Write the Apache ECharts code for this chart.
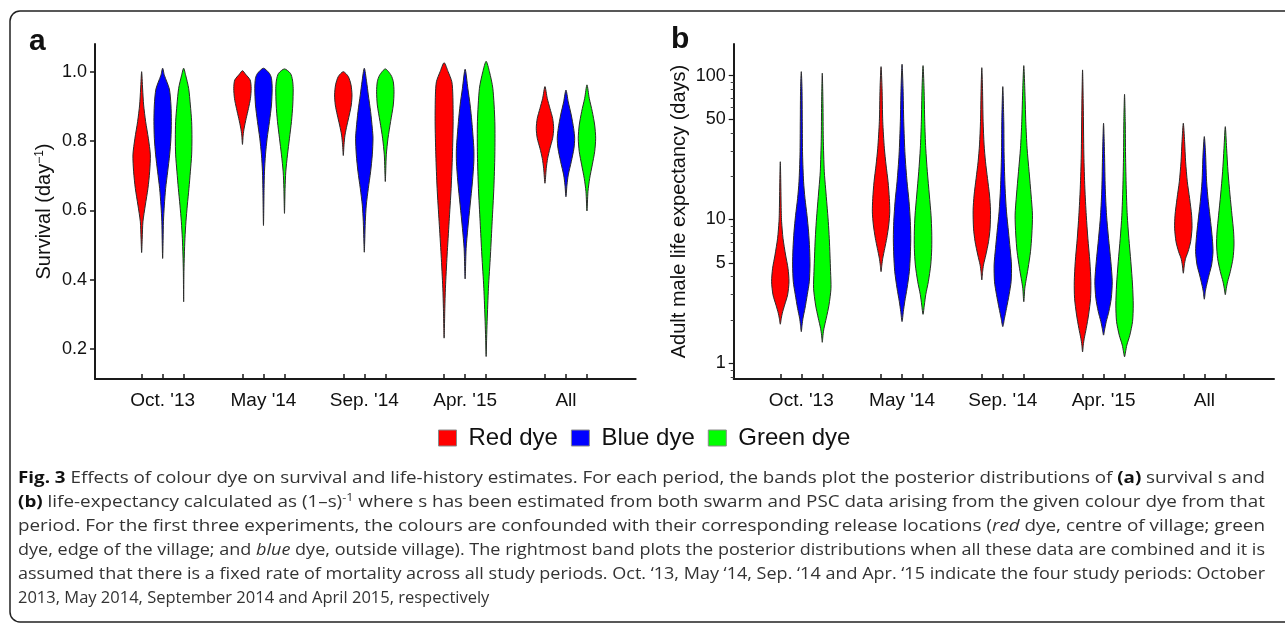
<!DOCTYPE html>
<html>
<head>
<meta charset="utf-8">
<title>Fig. 3 - colour dye effects</title>
<script src="https://cdn.jsdelivr.net/npm/echarts@6.0.0/dist/echarts.min.js"></script>
<style>
  html, body { margin: 0; padding: 0; background: #fff; }
  #chart { width: 1285px; height: 628px; }
</style>
</head>
<body>
<div id="chart"></div>
<script>
// ---- data ----
// each violin: [value, half-width of the band] from top to bottom
const periods = ["Oct. '13", "May '14", "Sep. '14", "Apr. '15", 'All']
const dyes = ['Red dye', 'Blue dye', 'Green dye']
const dyeColors = ['#ff0000', '#0000ff', '#00ff00']

// panel a: survival (day^-1)
const survivalRed = [
  [[1.0, 0], [0.95, 1], [0.904, 2], [0.856, 4], [0.808, 6.7], [0.76, 8.7], [0.711, 8], [0.663, 6.3], [0.615, 3.7], [0.567, 1.3], [0.52, 0.6], [0.478, 0]],
  [[1.003, 0], [0.993, 3], [0.976, 7.7], [0.952, 8.7], [0.923, 8], [0.894, 6], [0.865, 3.7], [0.837, 1.7], [0.817, 0.7], [0.79, 0]],
  [[1.0, 0], [0.986, 5], [0.962, 7.7], [0.933, 8.7], [0.904, 8], [0.875, 6], [0.846, 3.7], [0.817, 1.7], [0.789, 0.7], [0.758, 0]],
  [[1.026, 0], [1.0, 4], [0.971, 7.7], [0.933, 8.7], [0.856, 9], [0.76, 8.3], [0.663, 7], [0.567, 5], [0.471, 3], [0.375, 1.3], [0.317, 0.7], [0.231, 0]],
  [[0.957, 0], [0.923, 2.3], [0.894, 5], [0.865, 7.7], [0.836, 8.7], [0.808, 7.7], [0.779, 5], [0.75, 2.7], [0.721, 1.3], [0.678, 0]]
]
const survivalBlue = [
  [[1.01, 0], [0.99, 1.7], [0.95, 6.7], [0.904, 8.3], [0.856, 8.7], [0.808, 8.3], [0.76, 7], [0.711, 5], [0.663, 3], [0.615, 1.7], [0.567, 0.8], [0.52, 0.5], [0.461, 0]],
  [[1.01, 0], [0.995, 6], [0.981, 8], [0.952, 8.7], [0.904, 8], [0.856, 6], [0.808, 3.7], [0.76, 2], [0.711, 1], [0.663, 0.6], [0.556, 0]],
  [[1.01, 0], [0.971, 2.3], [0.933, 4], [0.885, 6.3], [0.837, 8], [0.808, 8.7], [0.76, 8], [0.711, 6.3], [0.663, 4], [0.615, 2], [0.567, 1], [0.519, 0.5], [0.479, 0]],
  [[1.007, 0], [0.952, 2.7], [0.904, 5], [0.856, 6.7], [0.779, 8.7], [0.74, 8.7], [0.682, 7.3], [0.615, 5], [0.548, 2.7], [0.49, 1], [0.402, 0]],
  [[0.947, 0], [0.913, 2.3], [0.875, 5.3], [0.836, 7.7], [0.808, 8.7], [0.779, 8], [0.74, 5.3], [0.702, 2.3], [0.673, 1], [0.639, 0]]
]
const survivalGreen = [
  [[1.01, 0], [0.99, 2], [0.952, 5], [0.904, 6.7], [0.856, 8], [0.808, 8.3], [0.76, 8], [0.711, 6.7], [0.663, 5.3], [0.615, 3.7], [0.567, 2.3], [0.519, 1.3], [0.471, 0.7], [0.423, 0.3], [0.336, 0]],
  [[1.008, 0], [0.995, 6], [0.976, 8], [0.952, 8.7], [0.904, 8.3], [0.856, 7], [0.808, 5], [0.76, 3], [0.711, 1.3], [0.663, 0.6], [0.591, 0]],
  [[1.008, 0], [0.99, 5.7], [0.971, 8], [0.942, 8.7], [0.904, 8], [0.856, 5.3], [0.808, 2.7], [0.76, 1], [0.72, 0.5], [0.683, 0]],
  [[1.03, 0], [1.0, 3.3], [0.952, 6.7], [0.856, 8.7], [0.76, 8.7], [0.663, 7.7], [0.567, 6], [0.471, 4.3], [0.375, 2.3], [0.279, 1], [0.231, 0.5], [0.178, 0]],
  [[0.962, 0], [0.923, 2.3], [0.885, 5.3], [0.846, 7.7], [0.808, 8.7], [0.769, 7.7], [0.731, 5.3], [0.692, 2.7], [0.654, 1], [0.598, 0]]
]

// panel b: adult male life expectancy (days), log scale
const lifeRed = [
  [[25.2, 0], [11, 1], [9.66, 1.3], [7.4, 2.7], [5.66, 5.3], [4.58, 7.7], [3.69, 8.7], [2.99, 7.3], [2.54, 4.3], [2.23, 2], [2.06, 1], [1.87, 0]],
  [[115.5, 0], [81.7, 1], [47.9, 1.7], [31.3, 3.3], [23.9, 5], [18.3, 7], [14, 8.3], [11.3, 8.7], [9.16, 7.7], [7.4, 5.7], [6.3, 3.7], [5.37, 1.7], [4.83, 0.8], [4.34, 0]],
  [[113.6, 0], [81.7, 0.7], [47.9, 1.3], [33, 2.3], [25.2, 3.7], [19.3, 5.7], [14.8, 7.7], [11.6, 8.7], [8.7, 8.3], [7.0, 6.7], [5.66, 4], [4.83, 1.7], [4.34, 0.8], [3.8, 0]],
  [[109.6, 0], [62.5, 0.7], [28.1, 1.3], [16.5, 2.3], [10.7, 3.7], [7.4, 5.3], [5.09, 7.3], [3.69, 8.3], [2.83, 8], [2.17, 6], [1.75, 3.7], [1.49, 1.7], [1.34, 0.7], [1.2, 0]],
  [[46.7, 0], [34.8, 1.3], [25.2, 2.3], [18.3, 4], [14, 6.3], [10.7, 8.3], [8.7, 8.7], [7.0, 7.3], [5.97, 4.7], [5.37, 2.3], [4.83, 1], [4.23, 0]]
]
const lifeBlue = [
  [[106.6, 0], [81.7, 0.7], [47.9, 1], [28.1, 1.3], [18.3, 2.3], [14, 3.7], [10.7, 5.7], [8.2, 7.3], [6.3, 8.3], [4.83, 8.7], [3.69, 8], [3.0, 6], [2.41, 3.7], [2.06, 1.7], [1.85, 0.8], [1.66, 0]],
  [[120, 0], [81.7, 1], [47.9, 1.7], [28.1, 3], [18.3, 5], [13.3, 7], [9.66, 8.3], [7.4, 8.7], [5.66, 8.3], [4.34, 7.3], [3.32, 5], [2.68, 2.7], [2.29, 1.3], [1.95, 0]],
  [[83.9, 0], [47.9, 1], [28.1, 1.3], [16.5, 2.3], [11.3, 3.7], [8.2, 5.7], [6.3, 7.3], [4.83, 8.7], [3.69, 8.3], [3.0, 6.3], [2.41, 3.7], [2.06, 1.7], [1.8, 0]],
  [[46.7, 0], [28.1, 1], [16.5, 1.7], [10.7, 3], [7.4, 5], [5.09, 7.3], [3.69, 8.7], [2.83, 7.7], [2.29, 5.3], [1.95, 2.7], [1.75, 1.3], [1.57, 0]],
  [[37.7, 0], [28.1, 1.3], [18.3, 2.3], [13.3, 4], [9.66, 6.3], [7.4, 8], [5.97, 8.7], [4.83, 7.3], [4.11, 4.7], [3.5, 2.3], [3.15, 1], [2.79, 0]]
]
const lifeGreen = [
  [[104, 0], [62.5, 0.7], [36.7, 1], [21.5, 2], [16.5, 3.3], [12.6, 4.7], [9.66, 6], [7.4, 7], [5.66, 7.7], [4.34, 8.3], [3.32, 8.7], [2.54, 6.7], [2.06, 4], [1.75, 1.7], [1.57, 0.7], [1.4, 0]],
  [[117.4, 0], [81.7, 1], [47.9, 1.7], [31.3, 2.7], [21.5, 4.3], [14.8, 6.3], [10.7, 8], [8.2, 8.7], [6.3, 8.7], [4.83, 7.7], [3.69, 5.3], [3.0, 2.7], [2.54, 1.3], [2.19, 0]],
  [[117.4, 0], [81.7, 1], [47.9, 2], [31.3, 3.3], [21.5, 5.3], [14.8, 7.3], [10.7, 8.7], [7.8, 8], [5.97, 6.7], [4.58, 4.3], [3.69, 2], [3.32, 1], [2.68, 0]],
  [[74.2, 0], [47.9, 0.7], [28.1, 1], [16.5, 1.7], [10.7, 2.7], [7.4, 4.3], [5.09, 6.3], [3.5, 8], [2.54, 8.7], [1.95, 8], [1.57, 5.3], [1.34, 2.3], [1.2, 1], [1.11, 0]],
  [[44.2, 0], [31.3, 1.3], [21.5, 2.7], [14.8, 4.7], [10.7, 6.7], [8.2, 8.3], [6.65, 8.7], [5.37, 7.7], [4.34, 5], [3.69, 2.3], [3.32, 1], [3.0, 0]]
]

const survivalTicks = [0.2, 0.4, 0.6, 0.8, 1.0]
const lifeTicks = [1, 5, 10, 50, 100]
const lifeMinorTicks = [0.8, 0.9, 2, 3, 4, 6, 7, 8, 9, 20, 30, 40, 60, 70, 80, 90]

const captionLines = [
  '{b|Fig. 3} Effects of colour dye on survival and life-history estimates. For each period, the bands plot the posterior distributions of {b|(a)} survival s and',
  '{b|(b)} life-expectancy calculated as (1\u2013s){sup|-1} where s has been estimated from both swarm and PSC data arising from the given colour dye from that',
  'period. For the first three experiments, the colours are confounded with their corresponding release locations ({i|red} dye, centre of village; green',
  'dye, edge of the village; and {i|blue} dye, outside village). The rightmost band plots the posterior distributions when all these data are combined and it is',
  'assumed that there is a fixed rate of mortality across all study periods. Oct. \u201813, May \u201814, Sep. \u201814 and Apr. \u201815 indicate the four study periods: October',
  '2013, May 2014, September 2014 and April 2015, respectively'
]

// ---- layout ----
const GROUP_STEP = 4.8 // distance between periods, in dye-slots
const REF_UNIT_PX = 21 // half-widths above are measured against this slot size
const X_MIN = -2.22
const X_MAX = 23.52
const AXIS_COLOR = '#1a1a1a'
const FONT = '"Liberation Sans", Arial, sans-serif'
const CAPTION_FONT = 'Open Sans'
const CAPTION_SIZE = 16.5
const CAPTION_COLOR = '#333'
const CAPTION_RICH = {
  n: { fontSize: CAPTION_SIZE, fontFamily: CAPTION_FONT, fill: CAPTION_COLOR, lineHeight: 20 },
  b: { fontSize: CAPTION_SIZE, fontFamily: CAPTION_FONT, fill: '#111', fontWeight: 'bold', lineHeight: 20 },
  i: { fontSize: CAPTION_SIZE, fontFamily: CAPTION_FONT, fill: CAPTION_COLOR, fontStyle: 'italic', lineHeight: 20 },
  sup: { fontSize: 11, fontFamily: CAPTION_FONT, fill: CAPTION_COLOR, verticalAlign: 'top', lineHeight: 12 }
}

const violinX = (g, d) => g * GROUP_STEP + d
const tickPositions = []
periods.forEach((p, g) => dyes.forEach((n, d) => tickPositions.push(violinX(g, d))))
const labelPositions = periods.map((p, g) => violinX(g, 1))
const periodFormatter = v => periods[Math.round((v - 1) / GROUP_STEP)] || ''

function violinRenderer (profiles, toAxis) {
  return function (params, api) {
    const prof = profiles[params.dataIndex]
    const x = api.value(0)
    const unit = api.size([1, 0])[0] / REF_UNIT_PX
    const right = []
    const left = []
    prof.forEach(([v, w]) => {
      const p = api.coord([x, toAxis(v)])
      right.push([p[0] + w * unit, p[1]])
      left.push([p[0] - w * unit, p[1]])
    })
    const points = right.concat(left.slice(1, -1).reverse())
    return {
      type: 'polygon',
      shape: { points: points, smooth: 0.25 },
      style: { fill: api.visual('color'), stroke: '#2a2a2a', lineWidth: 1 }
    }
  }
}

function buildSeries (profileSets, axisIndex, toAxis) {
  return profileSets.map((profiles, d) => ({
    type: 'custom',
    name: dyes[d],
    xAxisIndex: axisIndex,
    yAxisIndex: axisIndex,
    itemStyle: { color: dyeColors[d] },
    data: profiles.map((prof, g) => [violinX(g, d), toAxis(prof[0][0])]),
    renderItem: violinRenderer(profiles, toAxis),
    silent: true
  }))
}

const identity = v => v
const log10 = v => Math.log10(v)

function xAxisFor (gridIndex) {
  return {
    type: 'value',
    gridIndex: gridIndex,
    min: X_MIN,
    max: X_MAX,
    axisLine: { show: true, onZero: false, lineStyle: { color: AXIS_COLOR, width: 2 } },
    axisTick: { show: true, inside: true, length: 5, customValues: tickPositions, lineStyle: { color: AXIS_COLOR, width: 1.5 } },
    axisLabel: { customValues: labelPositions, formatter: periodFormatter, fontSize: 19, color: '#111', margin: 12, fontFamily: FONT },
    splitLine: { show: false }
  }
}

// caption lines are justified in the figure: stretch each one to the text block width
const measureCtx = document.createElement('canvas').getContext('2d')
function measureRich (str) {
  let total = 0
  const seg = (text, key) => {
    if (!text) return
    const st = CAPTION_RICH[key || 'n']
    measureCtx.font = (st.fontStyle || 'normal') + ' ' + (st.fontWeight || 'normal') + ' ' + st.fontSize + 'px "' + CAPTION_FONT + '"'
    total += measureCtx.measureText(text).width
  }
  const re = /\{(\w+)\|([^}]*)\}/g
  let last = 0
  let m
  while ((m = re.exec(str))) {
    seg(str.slice(last, m.index))
    seg(m[2], m[1])
    last = re.lastIndex
  }
  seg(str.slice(last))
  return total
}

const CAPTION_LEFT = 18
const CAPTION_WIDTH = 1247
const captionGraphics = captionLines.map((line, i) => {
  const natural = measureRich(line)
  const justify = i < captionLines.length - 1
  return {
    type: 'text',
    x: CAPTION_LEFT,
    y: 478 + i * 24,
    scaleX: justify ? CAPTION_WIDTH / natural : 1,
    style: {
      text: line,
      fontSize: CAPTION_SIZE,
      fontFamily: CAPTION_FONT,
      fill: CAPTION_COLOR,
      verticalAlign: 'middle',
      lineHeight: 20,
      rich: CAPTION_RICH
    }
  }
})

const chart = echarts.init(document.getElementById('chart'), null, { renderer: 'canvas' })
chart.setOption({
  animation: false,
  backgroundColor: '#fff',
  textStyle: { fontFamily: FONT },
  grid: [
    { left: 95, top: 44, width: 540.7, height: 335 },
    { left: 733.7, top: 44, width: 540.3, height: 335 }
  ],
  legend: {
    data: dyes,
    left: 438,
    top: 426,
    padding: 0,
    icon: 'rect',
    itemWidth: 18,
    itemHeight: 16,
    itemGap: 13,
    itemStyle: { borderColor: '#8a8a8a', borderWidth: 1 },
    textStyle: { fontSize: 24, color: '#111', fontFamily: FONT, padding: [0, 0, 0, 7] },
    selectedMode: false
  },
  xAxis: [xAxisFor(0), xAxisFor(1)],
  yAxis: [
    {
      type: 'value',
      gridIndex: 0,
      position: 'left',
      min: 0.1131,
      max: 1.0799,
      axisLine: { show: true, onZero: false, lineStyle: { color: AXIS_COLOR, width: 2 } },
      axisTick: { show: true, length: 5, customValues: survivalTicks, lineStyle: { color: AXIS_COLOR, width: 1.5 } },
      axisLabel: { customValues: survivalTicks, formatter: v => v.toFixed(1), fontSize: 18, color: '#111', margin: 8 },
      splitLine: { show: false },
      name: 'Survival (day{sup|\u22121})',
      nameLocation: 'middle',
      nameGap: 41,
      nameTextStyle: {
        fontSize: 20,
        color: '#111',
        fontFamily: FONT,
        rich: { sup: { fontSize: 12, verticalAlign: 'top', lineHeight: 12, fontFamily: FONT, color: '#111' } }
      }
    },
    {
      type: 'value',
      gridIndex: 1,
      position: 'left',
      min: -0.109,
      max: 2.22,
      axisLine: { show: true, onZero: false, lineStyle: { color: AXIS_COLOR, width: 2 } },
      axisTick: { show: true, length: 5, customValues: lifeTicks.map(log10), lineStyle: { color: AXIS_COLOR, width: 1.2 } },
      axisLabel: { customValues: lifeTicks.map(log10), formatter: v => String(Math.round(Math.pow(10, v))), fontSize: 18, color: '#111', margin: 8 },
      splitLine: { show: false },
      name: 'Adult male life expectancy (days)',
      nameLocation: 'middle',
      nameGap: 44,
      nameTextStyle: { fontSize: 20, color: '#111', fontFamily: FONT }
    },
    {
      // minor ticks of the log axis
      type: 'value',
      gridIndex: 1,
      position: 'left',
      min: -0.109,
      max: 2.22,
      axisLine: { show: false, onZero: false },
      axisTick: { show: true, length: 3, customValues: lifeMinorTicks.map(log10), lineStyle: { color: '#444', width: 1 } },
      axisLabel: { show: false },
      splitLine: { show: false }
    }
  ],
  graphic: [
    {
      type: 'rect',
      shape: { x: 10, y: 11, width: 1300, height: 611, r: 10 },
      style: { fill: 'none', stroke: '#222', lineWidth: 1.5 },
      silent: true
    },
    { type: 'text', x: 29, y: 41.5, style: { text: 'a', fontSize: 30, fontWeight: 'bold', fontFamily: FONT, fill: '#111', verticalAlign: 'middle' } },
    { type: 'text', x: 671, y: 39.5, style: { text: 'b', fontSize: 30, fontWeight: 'bold', fontFamily: FONT, fill: '#111', verticalAlign: 'middle' } }
  ].concat(captionGraphics),
  series: buildSeries([survivalRed, survivalBlue, survivalGreen], 0, identity)
    .concat(buildSeries([lifeRed, lifeBlue, lifeGreen], 1, log10))
})
</script>
</body>
</html>
